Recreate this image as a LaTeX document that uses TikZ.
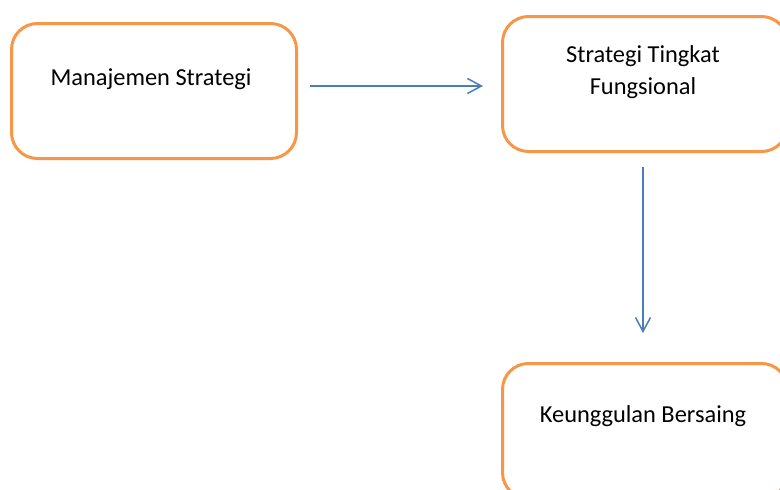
\documentclass[tikz,border=0pt]{standalone}
\usepackage{fontspec}
\setmainfont{Carlito}
\usetikzlibrary{arrows.meta}
\definecolor{boxorange}{HTML}{F79646}
\definecolor{arrowblue}{HTML}{4A7EBB}
\begin{document}
\begin{tikzpicture}[x=1pt,y=-1pt,
  stratbox/.style={draw=boxorange, line width=3pt, rounded corners=26pt, minimum width=285pt, minimum height=135pt, inner sep=0pt, anchor=north west},
  lbl/.style={font=\fontsize{24.4}{32}\selectfont, inner sep=0pt, anchor=base, align=center, text=black},
  arr/.style={draw=arrowblue, line width=1.5pt, -{Straight Barb[length=14pt,width=15pt,line width=1.5pt]}}]
\useasboundingbox (0,0) rectangle (780,490);
\clip (0,0) rectangle (780,490);
\node[stratbox] (b1) at (10,22) {};
\node[stratbox] (b2) at (501,15) {};
\node[stratbox] (b3) at (501,362) {};
\node[lbl] (t1) at (151,85) {Manajemen Strategi};
\node[lbl] (t2) at (643,94) {Strategi Tingkat\\Fungsional};
\node[lbl] (t3) at (643,422) {Keunggulan Bersaing};
\coordinate (h1) at (310,86);
\coordinate (h2) at (483,86);
\coordinate (v1) at (643,167);
\coordinate (v2) at (643,333);
\draw[arr] (h1) -- (h2);
\draw[arr] (v1) -- (v2);
\end{tikzpicture}
\end{document}
